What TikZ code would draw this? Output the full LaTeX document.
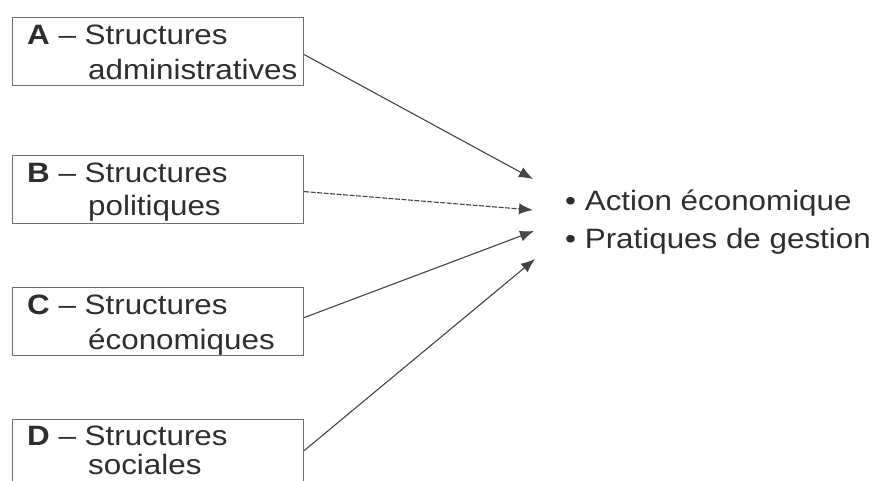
\documentclass[tikz,border=0pt]{standalone}
\usepackage{fontspec}
\setmainfont[FakeStretch=1.12]{Liberation Sans}
\usetikzlibrary{arrows.meta}
\definecolor{inkc}{HTML}{2E2E2E}
\definecolor{boxc}{HTML}{6E6E6E}
\definecolor{linec}{HTML}{444444}
\tikzset{
  box/.style={draw=boxc, line width=1.2pt, rectangle, minimum width=291pt, minimum height=68pt, inner sep=0pt, anchor=north west},
  lbl/.style={anchor=base west, inner sep=0pt, text=inkc, font=\fontsize{28}{34}\selectfont},
  conn/.style={draw=linec, line width=1.1pt, -{Latex[length=14pt,width=11pt]}},
}
\begin{document}
\begin{tikzpicture}[x=1pt,y=-1pt]
\useasboundingbox (0,0) rectangle (884,481);
\begin{scope}
\clip (0,0) rectangle (884,481);
\node[box] (bA) at (12,17) {};
\node[box] (bB) at (12,155) {};
\node[box] (bC) at (12,287) {};
\node[box] (bD) at (12,419) {};
\end{scope}
% box texts
\node[lbl] (a1) at (27,45) {\textbf{A} -- Structures};
\node[lbl] (a2) at (88,80) {administratives};
\node[lbl] (b1) at (27,183) {\textbf{B} -- Structures};
\node[lbl] (b2) at (88,216) {politiques};
\node[lbl] (c1) at (27,315) {\textbf{C} -- Structures};
\node[lbl] (c2) at (88,349) {économiques};
\node[lbl] (d1) at (27,445) {\textbf{D} -- Structures};
\node[lbl] (d2) at (88,474) {sociales};
% right text
\node[lbl] (r1) at (565,211) {\textbullet\ Action économique};
\node[lbl] (r2) at (565,249) {\textbullet\ Pratiques de gestion};
% arrow targets
\coordinate (tA) at (533,179);
\coordinate (tB) at (533,210);
\coordinate (tC) at (534,231);
\coordinate (tD) at (535,259);
\draw[conn] (bA.east) ++(0,3) -- (tA);
\draw[conn, dash pattern=on 5pt off 1.5pt] (bB.east) ++(0,2) -- (tB);
\draw[conn] (bC.east) ++(0,-4) -- (tC);
\draw[conn] (bD.east) ++(0,-3) -- (tD);
\end{tikzpicture}
\end{document}
